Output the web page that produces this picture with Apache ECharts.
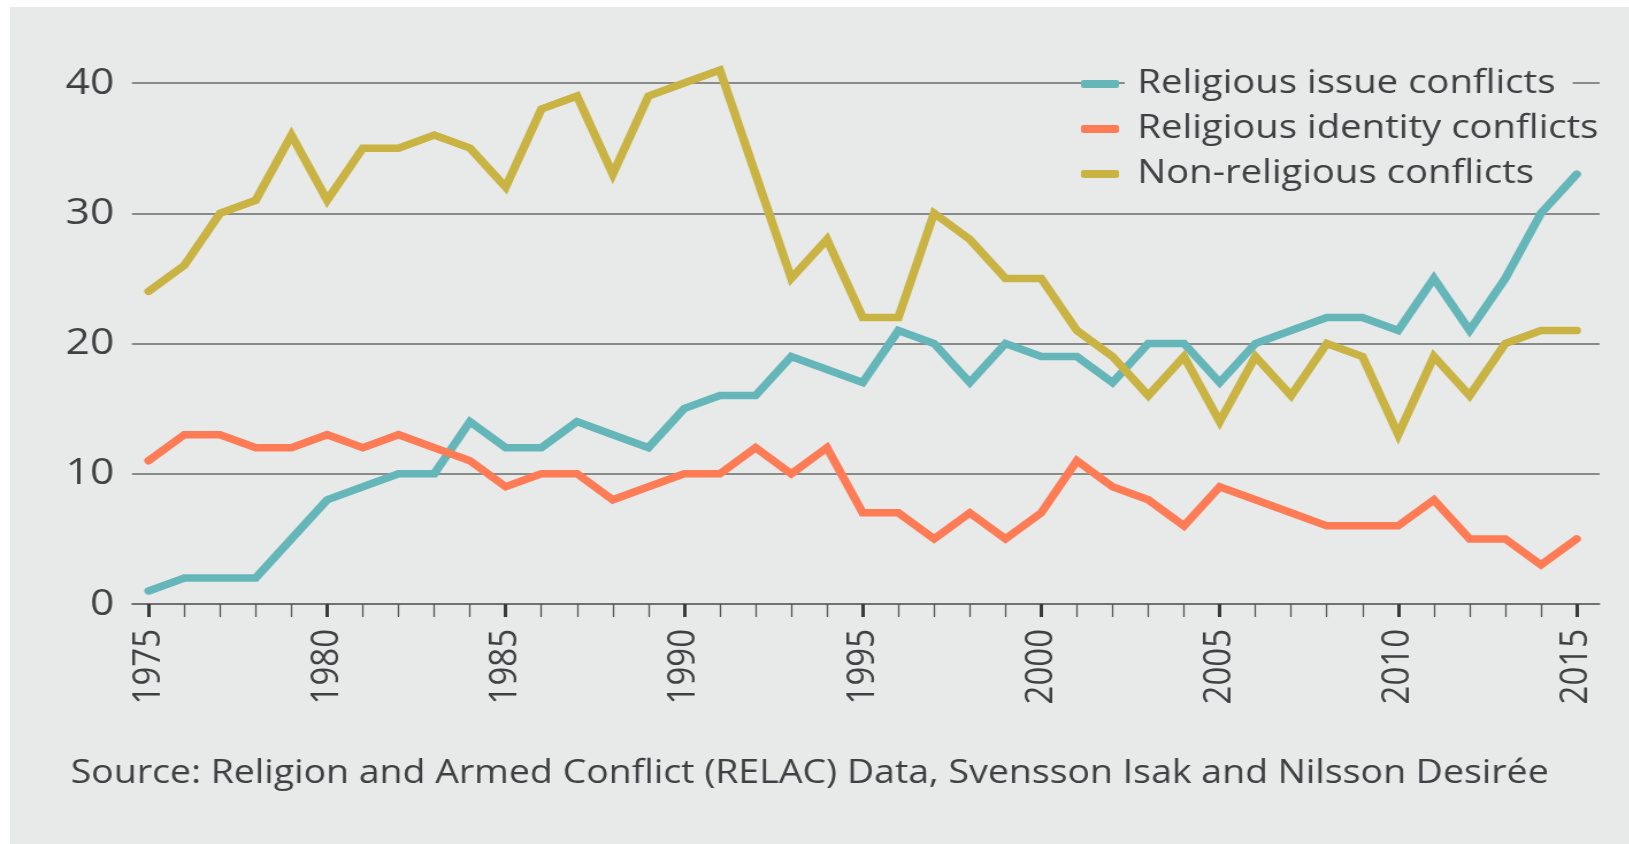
<!DOCTYPE html>
<html>
<head>
<meta charset="utf-8">
<script src="https://cdn.jsdelivr.net/npm/echarts@6/dist/echarts.min.js"></script>
<style>
  html, body { margin: 0; padding: 0; background: #ffffff; overflow: hidden; }
  #bg { position: absolute; left: 10px; top: 7px; width: 1619px; height: 837px; background: #e8e9e9; }
  #chart { position: absolute; left: 0; top: 0; width: 1416.5px; height: 844px;
           transform: scaleX(1.15); transform-origin: 0 0; }
</style>
</head>
<body>
<div id="bg"></div>
<div id="chart"></div>
<script>
const years = [1975,1976,1977,1978,1979,1980,1981,1982,1983,1984,1985,1986,1987,1988,1989,1990,1991,1992,1993,1994,1995,1996,1997,1998,1999,2000,2001,2002,2003,2004,2005,2006,2007,2008,2009,2010,2011,2012,2013,2014,2015];
const religiousIssue = [1,2,2,2,5,8,9,10,10,14,12,12,14,13,12,15,16,16,19,18,17,21,20,17,20,19,19,17,20,20,17,20,21,22,22,21,25,21,25,30,33];
const religiousIdentity = [11,13,13,12,12,13,12,13,12,11,9,10,10,8,9,10,10,12,10,12,7,7,5,7,5,7,11,9,8,6,9,8,7,6,6,6,8,5,5,3,5];
const nonReligious = [24,26,30,31,36,31,35,35,36,35,32,38,39,33,39,40,41,33,25,28,22,22,30,28,25,25,21,19,16,19,14,19,16,20,19,13,19,16,20,21,21];
const majorYears = [1975,1980,1985,1990,1995,2000,2005,2010,2015];
const seriesNames = ['Religious issue conflicts','Religious identity conflicts','Non-religious conflicts'];
const colors = ['#65b6b9','#fd7c56','#c9b343'];
const sourceText = 'Source: Religion and Armed Conflict (RELAC) Data, Svensson Isak and Nilsson Desirée';

const FONT = '"Open Sans", "Noto Sans", sans-serif';
const TEXT = '#3f4042';
const chart = echarts.init(document.getElementById('chart'));
const pairs = arr => years.map((y, i) => [y, arr[i]]);

chart.setOption({
  backgroundColor: 'transparent',
  animation: false,
  textStyle: { fontFamily: FONT },
  title: {
    text: sourceText,
    left: 61.5,
    top: 754,
    padding: 0,
    textStyle: { fontFamily: FONT, fontSize: 32.6, fontWeight: 400, color: TEXT, lineHeight: 40 }
  },
  legend: {
    orient: 'vertical',
    left: 940,
    top: 62,
    padding: 0,
    itemGap: 1,
    itemWidth: 33,
    itemHeight: 8,
    icon: 'roundRect',
    data: seriesNames,
    textStyle: {
      fontFamily: FONT, fontSize: 33.3, fontWeight: 400, color: TEXT,
      lineHeight: 40, backgroundColor: '#e8e9e9', padding: [2, 15, 2, 11]
    }
  },
  grid: { left: 114.8, right: 26.1, top: 83, bottom: 240, containLabel: false },
  xAxis: [
    {
      type: 'value',
      min: 1974.535,
      max: 2015.64,
      axisLine: { show: true, lineStyle: { color: '#6a6a6a', width: 1.5 } },
      axisTick: { show: true, customValues: years, length: 13, lineStyle: { color: '#555', width: 1.3 } },
      axisLabel: { show: false },
      splitLine: { show: false }
    },
    {
      type: 'value',
      min: 1974.535,
      max: 2015.64,
      position: 'bottom',
      axisLine: { show: false },
      axisTick: { show: true, customValues: majorYears, length: 13, lineStyle: { color: '#3a3a3a', width: 3 } },
      axisLabel: {
        show: true, customValues: majorYears, rotate: 90, margin: 25,
        fontFamily: FONT, fontSize: 33, fontWeight: 400, color: TEXT,
        formatter: v => String(v)
      },
      splitLine: { show: false }
    }
  ],
  yAxis: {
    type: 'value',
    min: 0,
    max: 40,
    interval: 10,
    axisLine: { show: false },
    axisTick: { show: false },
    axisLabel: { margin: 15.5, fontFamily: FONT, fontSize: 37, fontWeight: 400, color: TEXT },
    splitLine: { show: true, lineStyle: { color: '#6a6a6a', width: 1.5 } }
  },
  series: [
    { name: seriesNames[0], type: 'line', data: pairs(religiousIssue) },
    { name: seriesNames[1], type: 'line', data: pairs(religiousIdentity) },
    { name: seriesNames[2], type: 'line', data: pairs(nonReligious) }
  ].map((s, i) => Object.assign(s, {
    xAxisIndex: 0,
    z: 6,
    clip: false,
    showSymbol: false,
    symbol: 'none',
    color: colors[i],
    itemStyle: { color: colors[i] },
    lineStyle: { color: colors[i], width: 7.5, join: 'miter', cap: 'round' }
  }))
});
</script>
</body>
</html>
